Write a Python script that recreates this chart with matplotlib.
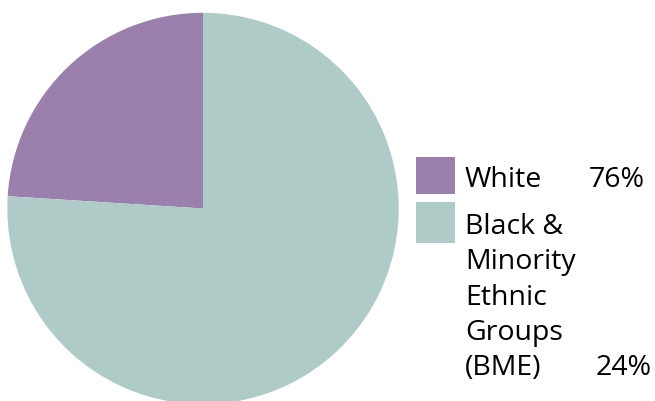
import matplotlib
matplotlib.use("Agg")
import matplotlib.pyplot as plt
from matplotlib.patches import Rectangle

# Data as drawn in the reference
slice_values = [24, 76]              # purple slice, teal slice (as drawn)
slice_colors = ["#9b80ad", "#afcbc7"]
legend_labels = ["White", "Black &\nMinority\nEthnic\nGroups\n(BME)"]
legend_pcts = ["76%", "24%"]

W, H = 655, 401
fig = plt.figure(figsize=(W / 100, H / 100), dpi=100)
fig.patch.set_facecolor("white")

cx, cy, r = 203, 208.5, 195.7
ax = fig.add_axes([(cx - r) / W, (H - cy - r) / H, 2 * r / W, 2 * r / H])
ax.pie(slice_values, colors=slice_colors, startangle=90, counterclock=True,
       radius=1, wedgeprops=dict(linewidth=0))
ax.set_xlim(-1, 1)
ax.set_ylim(-1, 1)
ax.set_aspect("equal")
ax.axis("off")

font = dict(family=["Open Sans", "DejaVu Sans"], size=20.5, color="black")

# legend squares
sq_x0, sq_x1 = 416, 455
sq_rows = [(156.7, 194.0), (202.3, 242.7)]
for (y0, y1), c in zip(sq_rows, slice_colors):
    fig.patches.append(Rectangle((sq_x0 / W, (H - y1) / H), (sq_x1 - sq_x0) / W,
                                 (y1 - y0) / H, transform=fig.transFigure,
                                 facecolor=c, edgecolor="none"))

# legend texts (baselines in pixels)
fig.text(465 / W, (H - 186.7) / H, legend_labels[0], ha="left", va="baseline", **font)
fig.text(645 / W, (H - 186.7) / H, legend_pcts[0], ha="right", va="baseline", **font)

lines = legend_labels[1].split("\n")
base0, step = 234.0, 35.3
for i, ln in enumerate(lines):
    fig.text(465 / W, (H - (base0 + i * step)) / H, ln, ha="left", va="baseline", **font)
fig.text(652 / W, (H - (base0 + (len(lines) - 1) * step)) / H, legend_pcts[1],
         ha="right", va="baseline", **font)

fig.savefig("out.png", dpi=100, facecolor="white")
